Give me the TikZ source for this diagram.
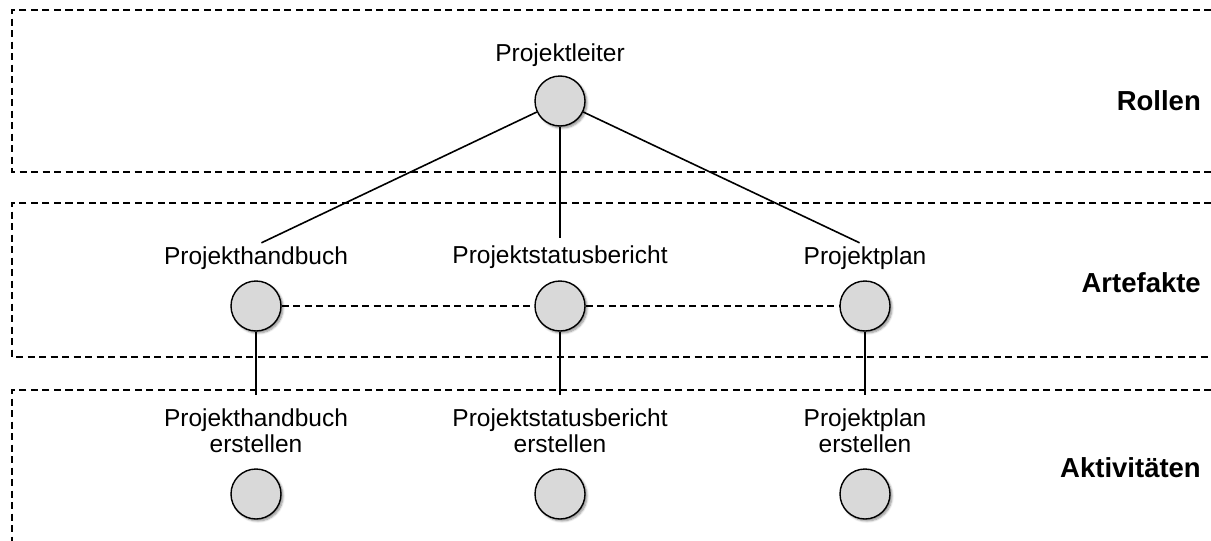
\documentclass[tikz,border=0pt]{standalone}
\usepackage{fontspec}
\setmainfont{Liberation Sans}
\usetikzlibrary{shadows.blur}
\begin{document}
\begin{tikzpicture}[x=1pt,y=-1pt,
  band/.style={line width=1.3pt, dash pattern=on 7pt off 4.5pt},
  link/.style={line width=1.6pt},
  dlink/.style={line width=1.4pt, dash pattern=on 7pt off 4.5pt},
  elem/.style={circle, draw, line width=1.4pt, fill=black!15, minimum size=50pt, inner sep=0pt,
    blur shadow={shadow xshift=2pt, shadow yshift=-2pt, shadow blur steps=6, shadow opacity=45}},
  lbl/.style={font=\fontsize{24.5}{26}\selectfont, align=center, inner sep=1pt},
  title/.style={font=\fontsize{27.5}{30}\selectfont\bfseries, anchor=east, inner sep=0pt}]
\useasboundingbox (0,0) rectangle (1211,541);

% layer bands
\draw[band] (1211,10) -- (12,10) -- (12,172) -- (1211,172);
\draw[band] (1211,203) -- (12,203) -- (12,357) -- (1211,357);
\draw[band] (1211,390) -- (12,390) -- (12,545);

\node[title] (tr) at (1201,101) {Rollen};
\node[title] (ta) at (1201,283) {Artefakte};
\node[title] (tk) at (1201,468) {Aktivitäten};

% role
\node[lbl] (lpl) at (560,55) {Projektleiter};
\node[elem] (pl) at (560,101) {};

% artefacts
\node[lbl] (lhb) at (256,258) {Projekthandbuch};
\node[lbl] (lsb) at (560,257) {Projektstatusbericht};
\node[lbl] (lpp) at (865,258) {Projektplan};
\node[elem] (hb) at (256,306) {};
\node[elem] (sb) at (560,306) {};
\node[elem] (pp) at (865,306) {};

% activities
\node[lbl] (lahb) at (256,431) {Projekthandbuch\\erstellen};
\node[lbl] (lasb) at (560,431) {Projektstatusbericht\\erstellen};
\node[lbl] (lapp) at (865,431) {Projektplan\\erstellen};
\node[elem] (ahb) at (256,494) {};
\node[elem] (asb) at (560,494) {};
\node[elem] (app) at (865,494) {};

% connectors
\draw[link, shorten >=6pt] (pl) -- (lhb.north);
\draw[link, shorten >=6pt] (pl) -- (lsb.north);
\draw[link, shorten >=6pt] (pl) -- (lpp.north);
\draw[dlink] (hb) -- (sb);
\draw[dlink] (sb) -- (pp);
\draw[link, shorten >=13pt] (hb) -- (lahb.north);
\draw[link, shorten >=13pt] (sb) -- (lasb.north);
\draw[link, shorten >=13pt] (pp) -- (lapp.north);
\end{tikzpicture}
\end{document}
